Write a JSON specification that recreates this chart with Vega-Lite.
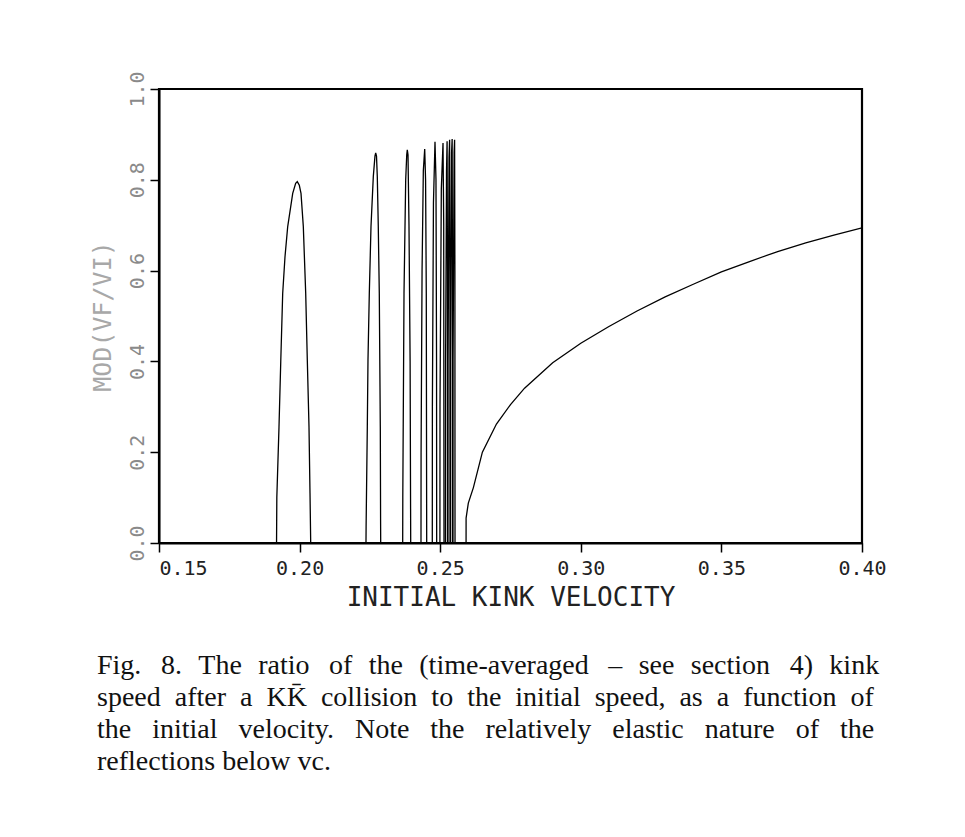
{
  "$schema": "https://vega.github.io/schema/vega-lite/v6.json",
  "autosize": {"type": "none"},
  "width": 703,
  "height": 454,
  "padding": {"left": 159, "top": 89, "right": 103, "bottom": 294},
  "background": "#ffffff",
  "config": {
    "view": {"stroke": "#000000", "strokeWidth": 2.2},
    "axis": {
      "domainColor": "#000000",
      "domainWidth": 2,
      "tickColor": "#000000",
      "tickWidth": 1.5,
      "tickSize": 9,
      "grid": false,
      "labelFont": "DejaVu Sans Mono",
      "titleFont": "DejaVu Sans Mono",
      "titleFontWeight": "normal"
    }
  },
  "title": {
    "text": [
      "Fig.\u2002\u20098.\u2002\u200aThe\u2002\u200aratio\u2002\u2009of\u2002\u200athe\u2002\u200a(time-averaged\u2002\u2009–\u2002\u200asee\u2002\u200asection\u2002\u20094)\u2002\u200akink",
      "speed\u2002after\u2002a\u2002KK̄\u2002collision\u2002to\u2002the\u2002initial\u2002speed,\u2002as\u2002a\u2002function\u2002of",
      "the \u2002initial \u2002velocity. \u2002Note \u2002the \u2002relatively \u2002elastic \u2002nature \u2002of \u2002the",
      "reflections below vc."
    ],
    "orient": "bottom",
    "anchor": "start",
    "frame": "group",
    "dx": -62,
    "offset": 42,
    "font": "Liberation Serif",
    "fontSize": 28,
    "fontWeight": "normal",
    "lineHeight": 32,
    "color": "#111111"
  },
  "data": {
    "values": [
      {"v": 0.15, "ratio": 0},
      {"v": 0.1918, "ratio": 0},
      {"v": 0.1919, "ratio": 0.10},
      {"v": 0.19267, "ratio": 0.255},
      {"v": 0.1933, "ratio": 0.40},
      {"v": 0.19399, "ratio": 0.55},
      {"v": 0.1948, "ratio": 0.63},
      {"v": 0.19577, "ratio": 0.697},
      {"v": 0.19755, "ratio": 0.77},
      {"v": 0.1986, "ratio": 0.792},
      {"v": 0.19918, "ratio": 0.796},
      {"v": 0.1999, "ratio": 0.788},
      {"v": 0.2005, "ratio": 0.77},
      {"v": 0.20132, "ratio": 0.697},
      {"v": 0.20217, "ratio": 0.55},
      {"v": 0.20274, "ratio": 0.403},
      {"v": 0.20334, "ratio": 0.256},
      {"v": 0.2037, "ratio": 0.11},
      {"v": 0.20395, "ratio": 0},
      {"v": 0.22361, "ratio": 0},
      {"v": 0.22365, "ratio": 0.036},
      {"v": 0.22408, "ratio": 0.256},
      {"v": 0.22432, "ratio": 0.403},
      {"v": 0.22479, "ratio": 0.55},
      {"v": 0.22539, "ratio": 0.697},
      {"v": 0.22621, "ratio": 0.807},
      {"v": 0.2268, "ratio": 0.852},
      {"v": 0.22706, "ratio": 0.859},
      {"v": 0.22735, "ratio": 0.852},
      {"v": 0.22763, "ratio": 0.807},
      {"v": 0.22798, "ratio": 0.697},
      {"v": 0.22834, "ratio": 0.55},
      {"v": 0.2287, "ratio": 0.256},
      {"v": 0.2288, "ratio": 0.05},
      {"v": 0.22884, "ratio": 0},
      {"v": 0.23666, "ratio": 0},
      {"v": 0.2367, "ratio": 0.10},
      {"v": 0.23713, "ratio": 0.55},
      {"v": 0.23773, "ratio": 0.80},
      {"v": 0.2381, "ratio": 0.855},
      {"v": 0.2383, "ratio": 0.866},
      {"v": 0.23855, "ratio": 0.855},
      {"v": 0.2389, "ratio": 0.70},
      {"v": 0.2393, "ratio": 0.40},
      {"v": 0.23951, "ratio": 0},
      {"v": 0.24317, "ratio": 0},
      {"v": 0.2432, "ratio": 0.20},
      {"v": 0.24355, "ratio": 0.60},
      {"v": 0.244, "ratio": 0.82},
      {"v": 0.24449, "ratio": 0.868},
      {"v": 0.2448, "ratio": 0.80},
      {"v": 0.24505, "ratio": 0.55},
      {"v": 0.2452, "ratio": 0},
      {"v": 0.24719, "ratio": 0},
      {"v": 0.24722, "ratio": 0.30},
      {"v": 0.2476, "ratio": 0.75},
      {"v": 0.24815, "ratio": 0.884},
      {"v": 0.2485, "ratio": 0.80},
      {"v": 0.2487, "ratio": 0.40},
      {"v": 0.24875, "ratio": 0},
      {"v": 0.2499, "ratio": 0},
      {"v": 0.24993, "ratio": 0.30},
      {"v": 0.2504, "ratio": 0.78},
      {"v": 0.251, "ratio": 0.881},
      {"v": 0.25125, "ratio": 0.70},
      {"v": 0.25135, "ratio": 0},
      {"v": 0.25189, "ratio": 0},
      {"v": 0.25192, "ratio": 0.40},
      {"v": 0.25225, "ratio": 0.82},
      {"v": 0.25245, "ratio": 0.885},
      {"v": 0.25258, "ratio": 0.60},
      {"v": 0.25262, "ratio": 0},
      {"v": 0.25277, "ratio": 0},
      {"v": 0.2528, "ratio": 0.40},
      {"v": 0.25315, "ratio": 0.85},
      {"v": 0.25335, "ratio": 0.888},
      {"v": 0.25346, "ratio": 0.60},
      {"v": 0.25349, "ratio": 0},
      {"v": 0.25366, "ratio": 0},
      {"v": 0.25369, "ratio": 0.40},
      {"v": 0.25405, "ratio": 0.86},
      {"v": 0.25425, "ratio": 0.89},
      {"v": 0.25435, "ratio": 0.60},
      {"v": 0.25438, "ratio": 0},
      {"v": 0.25455, "ratio": 0},
      {"v": 0.25458, "ratio": 0.40},
      {"v": 0.25495, "ratio": 0.86},
      {"v": 0.25512, "ratio": 0.888},
      {"v": 0.25523, "ratio": 0.60},
      {"v": 0.25527, "ratio": 0},
      {"v": 0.2592, "ratio": 0},
      {"v": 0.25921, "ratio": 0.055},
      {"v": 0.26, "ratio": 0.088},
      {"v": 0.2618, "ratio": 0.122},
      {"v": 0.265, "ratio": 0.20},
      {"v": 0.27, "ratio": 0.262},
      {"v": 0.275, "ratio": 0.305},
      {"v": 0.28, "ratio": 0.341},
      {"v": 0.29, "ratio": 0.397},
      {"v": 0.30, "ratio": 0.44},
      {"v": 0.31, "ratio": 0.477},
      {"v": 0.32, "ratio": 0.511},
      {"v": 0.33, "ratio": 0.542},
      {"v": 0.34, "ratio": 0.57},
      {"v": 0.35, "ratio": 0.597},
      {"v": 0.36, "ratio": 0.62},
      {"v": 0.37, "ratio": 0.642},
      {"v": 0.38, "ratio": 0.661},
      {"v": 0.39, "ratio": 0.678},
      {"v": 0.40, "ratio": 0.694}
    ]
  },
  "mark": {"type": "line", "color": "#000000", "strokeWidth": 1.3, "clip": true},
  "encoding": {
    "x": {
      "field": "v",
      "type": "quantitative",
      "scale": {"domain": [0.15, 0.40], "nice": false, "zero": false},
      "axis": {
        "values": [0.15, 0.20, 0.25, 0.30, 0.35, 0.40],
        "format": ".2f",
        "title": "INITIAL KINK VELOCITY",
        "labelFontSize": 20,
        "labelColor": "#222222",
        "labelPadding": 6,
        "labelFlush": false,
        "labelAlign": {"condition": {"test": "datum.value == 0.15", "value": "left"}, "value": "center"},
        "titleFontSize": 26,
        "titleColor": "#222222",
        "titlePadding": 6
      }
    },
    "y": {
      "field": "ratio",
      "type": "quantitative",
      "scale": {"domain": [0, 1], "nice": false},
      "axis": {
        "values": [0, 0.2, 0.4, 0.6, 0.8, 1.0],
        "format": ".1f",
        "title": "MOD(VF/VI)",
        "labelAngle": 270,
        "labelFontSize": 20,
        "labelColor": "#8a8a8a",
        "labelPadding": 3,
        "labelFlush": false,
        "titleFontSize": 25,
        "titleColor": "#a8a8a8",
        "titlePadding": 12
      }
    }
  }
}
